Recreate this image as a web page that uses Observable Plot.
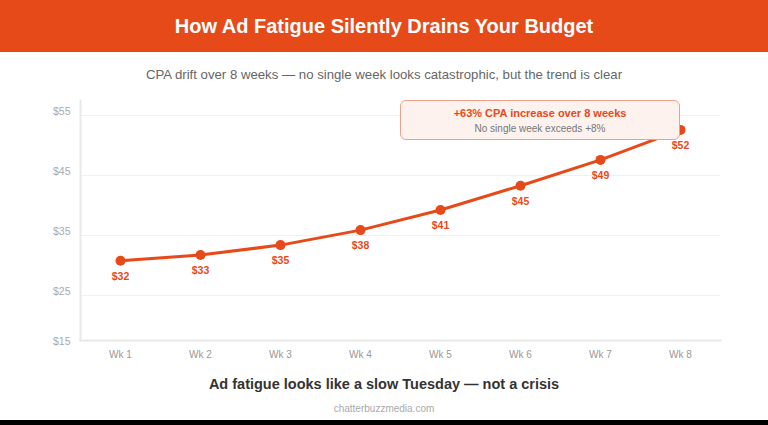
<!DOCTYPE html>
<html>
<head>
<meta charset="utf-8">
<script src="https://cdn.jsdelivr.net/npm/d3@7"></script>
<script src="https://cdn.jsdelivr.net/npm/@observablehq/plot@0.6"></script>
<style>
  html, body { margin: 0; padding: 0; background: #000; }
  #wrap { position: relative; width: 768px; height: 420px; background: #fff; font-family: "Liberation Sans", Arial, sans-serif; overflow: hidden; }
  #header { height: 52px; line-height: 52px; background: #E64A19; color: #fff; text-align: center; font-weight: bold; font-size: 20px; }
  #sub { height: 38px; box-sizing: border-box; padding-top: 8px; line-height: 30px; text-align: center; color: #666; font-size: 13.2px; }
  #chart { height: 275px; }
  #chart svg { display: block; }
  #foot { margin-top: 5px; height: 28px; line-height: 28px; text-align: center; font-weight: bold; font-size: 14.5px; color: #333; }
  #cap { height: 16px; line-height: 16px; text-align: center; font-size: 10px; color: #aaa; margin-top: 3px; }
  #note { position: absolute; left: 400px; top: 100px; width: 280px; height: 40px; box-sizing: border-box; border: 1px solid #EBA28B; border-radius: 6px; background: #FDF2EE; text-align: center; }
  #note .l1 { position: absolute; left: 0; right: 0; top: 5px; font-size: 11px; font-weight: bold; color: #E64A19; line-height: 14px; }
  #note .l2 { position: absolute; left: 0; right: 0; top: 21px; font-size: 10px; color: #777; line-height: 13px; }
</style>
</head>
<body>
<div id="wrap">
  <div id="header"></div>
  <div id="sub"></div>
  <div id="chart"></div>
  <div id="foot"></div>
  <div id="cap"></div>
  <div id="note"><div class="l1"></div><div class="l2"></div></div>
</div>
<script>
const titleText = "How Ad Fatigue Silently Drains Your Budget";
const subtitleText = "CPA drift over 8 weeks — no single week looks catastrophic, but the trend is clear";
const footText = "Ad fatigue looks like a slow Tuesday — not a crisis";
const captionText = "chatterbuzzmedia.com";
const noteTitle = "+63% CPA increase over 8 weeks";
const noteSub = "No single week exceeds +8%";

const weeks = ["Wk 1", "Wk 2", "Wk 3", "Wk 4", "Wk 5", "Wk 6", "Wk 7", "Wk 8"];
const cpa = [30.8, 31.75, 33.4, 35.9, 39.25, 43.3, 47.6, 52.6];
const cpaLabels = ["$32", "$33", "$35", "$38", "$41", "$45", "$49", "$52"];
const yTicks = [25, 35, 45, 55];
const yDomain = [17.5, 57.5];
const yMinLabel = "$15";

const orange = "#E64A19";
const data = weeks.map((w, i) => ({ week: w, cpa: cpa[i], label: cpaLabels[i] }));

document.getElementById("header").textContent = titleText;
document.getElementById("sub").textContent = subtitleText;
document.getElementById("foot").textContent = footText;
document.getElementById("cap").textContent = captionText;
document.querySelector("#note .l1").textContent = noteTitle;
document.querySelector("#note .l2").textContent = noteSub;

const chart = Plot.plot({
  width: 768,
  height: 275,
  marginLeft: 80,
  marginRight: 48,
  marginTop: 10,
  marginBottom: 25,
  style: { fontFamily: "'Liberation Sans', Arial, sans-serif", background: "transparent", overflow: "visible" },
  x: { type: "point", domain: weeks, padding: 0.5 },
  y: { domain: yDomain },
  marks: [
    Plot.ruleY(yTicks, { stroke: "#f0f0f0", strokeWidth: 1 }),
    Plot.frame({ anchor: "left", stroke: "#e8e8e8", strokeWidth: 2 }),
    Plot.frame({ anchor: "bottom", stroke: "#e8e8e8", strokeWidth: 2 }),
    Plot.axisY({ ticks: yTicks, tickSize: 0, tickPadding: 10, tickFormat: d => "$" + d, dy: -4, fill: "#aaa", fontSize: 10.5, label: null }),
    Plot.axisY({ ticks: [yDomain[0]], tickSize: 0, tickPadding: 10, tickFormat: () => yMinLabel, dy: 1, fill: "#aaa", fontSize: 10.5, label: null }),
    Plot.axisX({ tickSize: 0, tickPadding: 10, fill: "#999", fontSize: 10, label: null }),
    Plot.line(data, { x: "week", y: "cpa", stroke: orange, strokeWidth: 3 }),
    Plot.dot(data, { x: "week", y: "cpa", r: 5, fill: orange }),
    Plot.text(data, { x: "week", y: "cpa", text: "label", dy: 16, fill: orange, fontWeight: "bold", fontSize: 10.5 })
  ]
});
document.getElementById("chart").appendChild(chart);
</script>
</body>
</html>
